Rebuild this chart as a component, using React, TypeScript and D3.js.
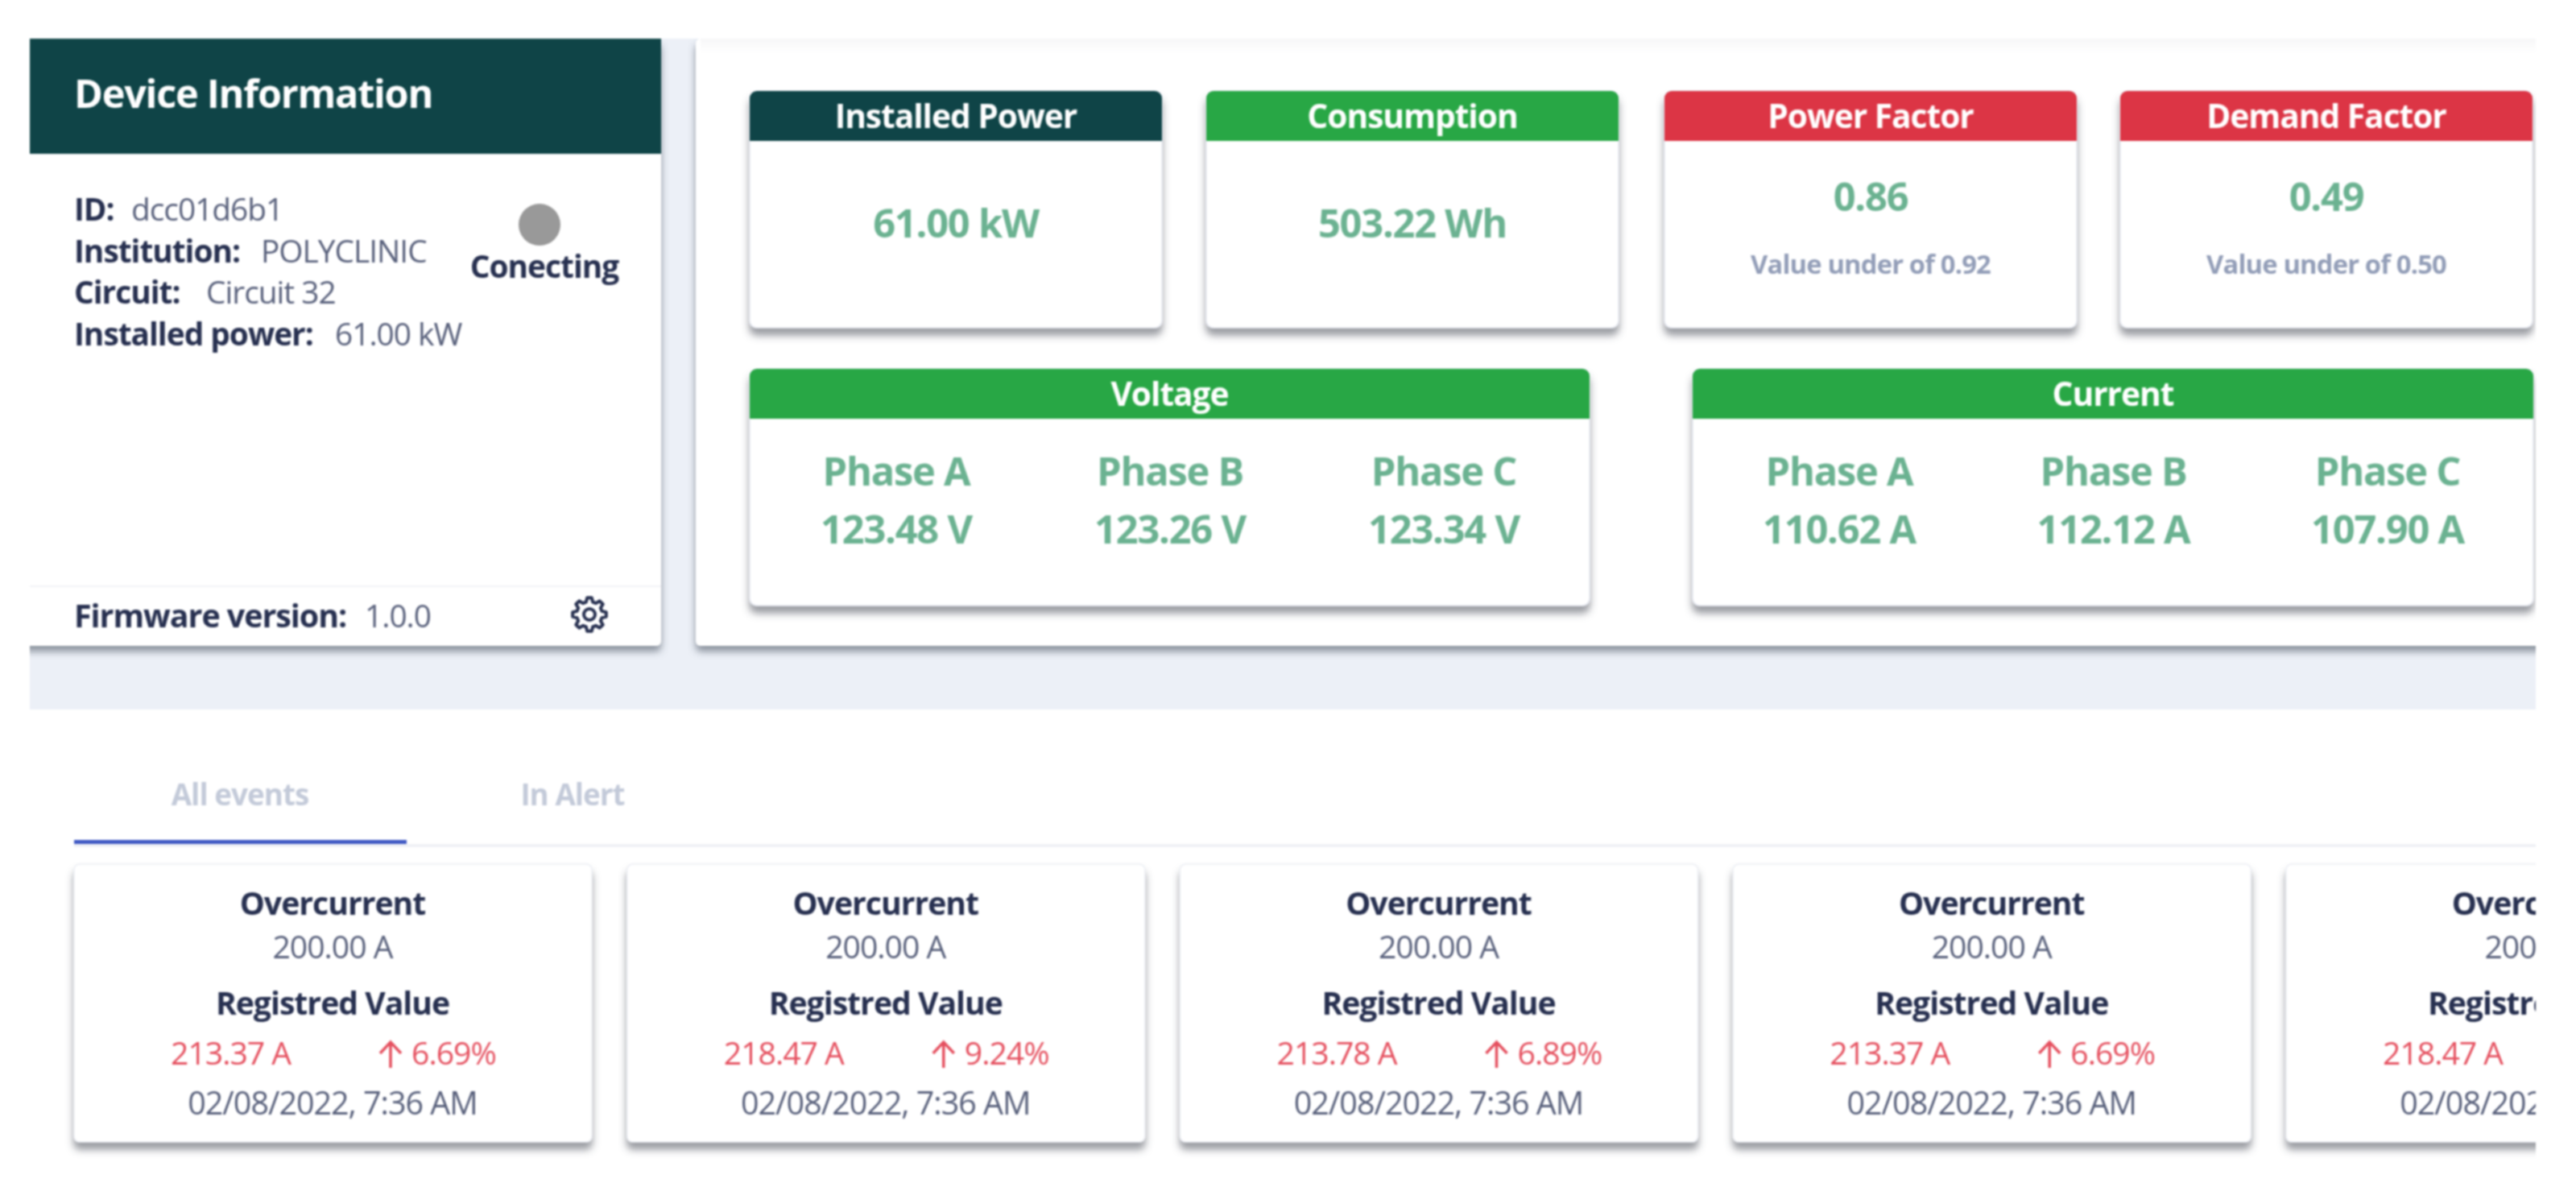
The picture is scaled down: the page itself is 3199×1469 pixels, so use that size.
import React from "react";
import * as d3 from "d3";

const W = 3199, H = 1469;
const FONT = "'Open Sans', 'Noto Sans', sans-serif";

// ---- data ----
const deviceRows = [
  { label: "ID:", value: "dcc01d6b1", vx: 163 },
  { label: "Institution:", value: "POLYCLINIC", vx: 324 },
  { label: "Circuit:", value: "Circuit 32", vx: 256 },
  { label: "Installed power:", value: "61.00 kW", vx: 416 },
];
const kpiTitles = ["Installed Power", "Consumption", "Power Factor", "Demand Factor"];
const kpiValues = ["61.00 kW", "503.22 Wh", "0.86", "0.49"];
const kpiNotes = ["", "", "Value under of 0.92", "Value under of 0.50"];
const kpiColors = ["#0f4447", "#28a745", "#dc3545", "#dc3545"];
const phaseNames = ["Phase A", "Phase B", "Phase C"];
const voltageValues = ["123.48 V", "123.26 V", "123.34 V"];
const currentValues = ["110.62 A", "112.12 A", "107.90 A"];
const registered = ["213.37 A", "218.47 A", "213.78 A", "213.37 A", "218.47 A"];
const percents = ["6.69%", "9.24%", "6.89%", "6.69%", "9.24%"];
const eventDate = "02/08/2022, 7:36 AM";

const ink = "#273050";
const soft = "#59617c";
const green = "#6bb291";
const red = "#e5505f";

const eventX = d3.scaleLinear().domain([0, 4]).range([92, 2839]);
const voltX = d3.scalePoint<string>().domain(phaseNames).range([1113, 1793]);
const currX = d3.scalePoint<string>().domain(phaseNames).range([2284, 2965]);
const rowY = d3.scaleLinear().domain([0, 3]).range([274, 429]);
const kpiLefts = [931, 1498, 2067, 2633];

function topRound(x: number, y: number, w: number, h: number, r: number) {
  const p = d3.path();
  p.moveTo(x, y + h);
  p.lineTo(x, y + r);
  p.arcTo(x, y, x + r, y, r);
  p.lineTo(x + w - r, y);
  p.arcTo(x + w, y, x + w, y + r, r);
  p.lineTo(x + w, y + h);
  p.closePath();
  return p.toString();
}

function gearPath(cx: number, cy: number, R: number, r: number) {
  const pts: [number, number][] = [];
  const teeth = 8;
  const step = (Math.PI * 2) / teeth;
  d3.range(teeth).forEach((i) => {
    const a = i * step;
    pts.push([a - step * 0.17, R], [a + step * 0.17, R], [a + step * 0.33, r], [a + step * 0.67, r]);
  });
  const line = d3.lineRadial().curve(d3.curveLinearClosed);
  return { d: line(pts as any) as string, cx, cy };
}

function Txt(props: any) {
  const { x, y, size, weight = 400, fill = ink, anchor = "start", children, ...rest } = props;
  return (
    <text x={x} y={y} fontFamily={FONT} fontSize={size * 1.05} letterSpacing={-0.027 * size} fontWeight={weight} fill={fill} textAnchor={anchor} {...rest}>
      {children}
    </text>
  );
}

function Card({ x, y, w, h, title, color }: any) {
  return (
    <g>
      <rect x={x} y={y} width={w} height={h} rx={9} fill="#fff" stroke="#e6e9f1" strokeWidth={1.5} filter="url(#cardShadow)" />
      <path d={topRound(x, y, w, 62, 9)} fill={color} />
      <Txt x={x + w / 2} y={y + 45.5} size={38.8} weight={700} fill="#fff" anchor="middle">
        {title}
      </Txt>
    </g>
  );
}

function PhaseCard({ x, w, title, values, scale }: any) {
  return (
    <g>
      <Card x={x} y={458} w={w} h={294} title={title} color="#28a745" />
      {phaseNames.map((n, i) => (
        <g key={n}>
          <Txt x={scale(n)} y={603} size={46.5} weight={700} fill={green} anchor="middle">{n}</Txt>
          <Txt x={scale(n)} y={675} size={46.5} weight={700} fill={green} anchor="middle">{values[i]}</Txt>
        </g>
      ))}
    </g>
  );
}

export default function App() {
  const gear = gearPath(732, 763, 21, 16);
  return (
    <svg width={W} height={H} viewBox={`0 0 ${W} ${H}`} style={{ position: "absolute", left: 0, top: 0, display: "block", background: "#fff", filter: "blur(1px)" }}>
      <defs>
        <clipPath id="frame"><rect x={37} y={48} width={3112} height={1421} /></clipPath>
        <filter id="panelShadow" x="-5%" y="-5%" width="110%" height="110%">
          <feDropShadow dx={0} dy={7} stdDeviation={5} floodColor="#4a5260" floodOpacity={0.6} />
        </filter>
        <filter id="cardShadow" x="-5%" y="-5%" width="110%" height="115%">
          <feDropShadow dx={0} dy={9} stdDeviation={5} floodColor="#4a4e56" floodOpacity={0.55} />
        </filter>
        <linearGradient id="panelTop" x1="0" x2="0" y1="0" y2="1">
          <stop offset="0" stopColor="#f7f7f8" />
          <stop offset="1" stopColor="#ffffff" />
        </linearGradient>
      </defs>
      <g clipPath="url(#frame)">
        <rect x={37} y={48} width={3112} height={833} fill="#ecf0f7" />

        {/* Device information */}
        <rect x={20} y={48} width={801} height={754} rx={6} fill="#fff" filter="url(#panelShadow)" />
        <rect x={20} y={48} width={801} height={143} fill="#0f4447" />
        <Txt x={92} y={134} size={46.3} weight={700} fill="#fff">Device Information</Txt>
        {deviceRows.map((r, i) => (
          <g key={r.label}>
            <Txt x={92} y={rowY(i)} size={37} weight={700}>{r.label}</Txt>
            <Txt x={r.vx} y={rowY(i)} size={37} fill={soft}>{r.value}</Txt>
          </g>
        ))}
        <circle cx={670} cy={279} r={26} fill="#999999" />
        <Txt x={676} y={345} size={37} weight={700} anchor="middle">Conecting</Txt>
        <line x1={37} x2={821} y1={728} y2={728} stroke="#f2f3f7" strokeWidth={2} />
        <Txt x={92} y={779} size={37.5} weight={700}>Firmware version:</Txt>
        <Txt x={453} y={779} size={37} fill={soft}>1.0.0</Txt>
        <g>
          <path d={gear.d} transform={`translate(${gear.cx},${gear.cy})`} fill="none" stroke={ink} strokeWidth={4} strokeLinejoin="round" />
          <circle cx={gear.cx} cy={gear.cy} r={7} fill="none" stroke={ink} strokeWidth={4} />
        </g>

        {/* Main panel */}
        <rect x={864} y={48} width={2330} height={754} rx={6} fill="#fff" filter="url(#panelShadow)" />
        <rect x={870} y={48} width={2300} height={18} fill="url(#panelTop)" />

        {kpiTitles.map((t, i) => (
          <g key={t}>
            <Card x={kpiLefts[i]} y={113} w={512} h={294} title={t} color={kpiColors[i]} />
            {kpiNotes[i] ? (
              <>
                <Txt x={kpiLefts[i] + 256} y={262} size={46.5} weight={700} fill={green} anchor="middle">{kpiValues[i]}</Txt>
                <Txt x={kpiLefts[i] + 256} y={339.5} size={31.2} weight={700} fill="#939eb8" anchor="middle">{kpiNotes[i]}</Txt>
              </>
            ) : (
              <Txt x={kpiLefts[i] + 256} y={295} size={46.5} weight={700} fill={green} anchor="middle">{kpiValues[i]}</Txt>
            )}
          </g>
        ))}
        <PhaseCard x={931} w={1043} title="Voltage" values={voltageValues} scale={voltX} />
        <PhaseCard x={2102} w={1044} title="Current" values={currentValues} scale={currX} />

        {/* Tabs */}
        <Txt x={298} y={1000} size={35} weight={700} fill="#c3cad9" anchor="middle">All events</Txt>
        <Txt x={711} y={1000} size={35} weight={700} fill="#c3cad9" anchor="middle">In Alert</Txt>
        <line x1={92} x2={3149} y1={1050} y2={1050} stroke="#eceef3" strokeWidth={3} />
        <rect x={92} y={1043} width={413} height={5} fill="#4059c4" />

        {/* Event cards */}
        {registered.map((v, i) => {
          const x = eventX(i);
          const cx = x + 321;
          return (
            <g key={i}>
              <rect x={x} y={1073} width={643} height={345} rx={7} fill="#fff" stroke="#eceef4" strokeWidth={1.5} filter="url(#cardShadow)" />
              <Txt x={cx} y={1136} size={37.3} weight={700} anchor="middle">Overcurrent</Txt>
              <Txt x={cx} y={1189.5} size={37.3} fill={soft} anchor="middle">200.00 A</Txt>
              <Txt x={cx} y={1260} size={37.3} weight={700} anchor="middle">Registred Value</Txt>
              <Txt x={x + 120} y={1321.5} size={37.3} fill={red}>{v}</Txt>
              <path d={`M${x + 393},1326 V1294 M${x + 380},1308 L${x + 393},1294 L${x + 406},1308`} fill="none" stroke={red} strokeWidth={3.5} />
              <Txt x={x + 419} y={1321.5} size={37.3} fill={red}>{percents[i]}</Txt>
              <Txt x={cx} y={1383.5} size={37.6} fill={soft} anchor="middle">{eventDate}</Txt>
            </g>
          );
        })}
      </g>
    </svg>
  );
}
